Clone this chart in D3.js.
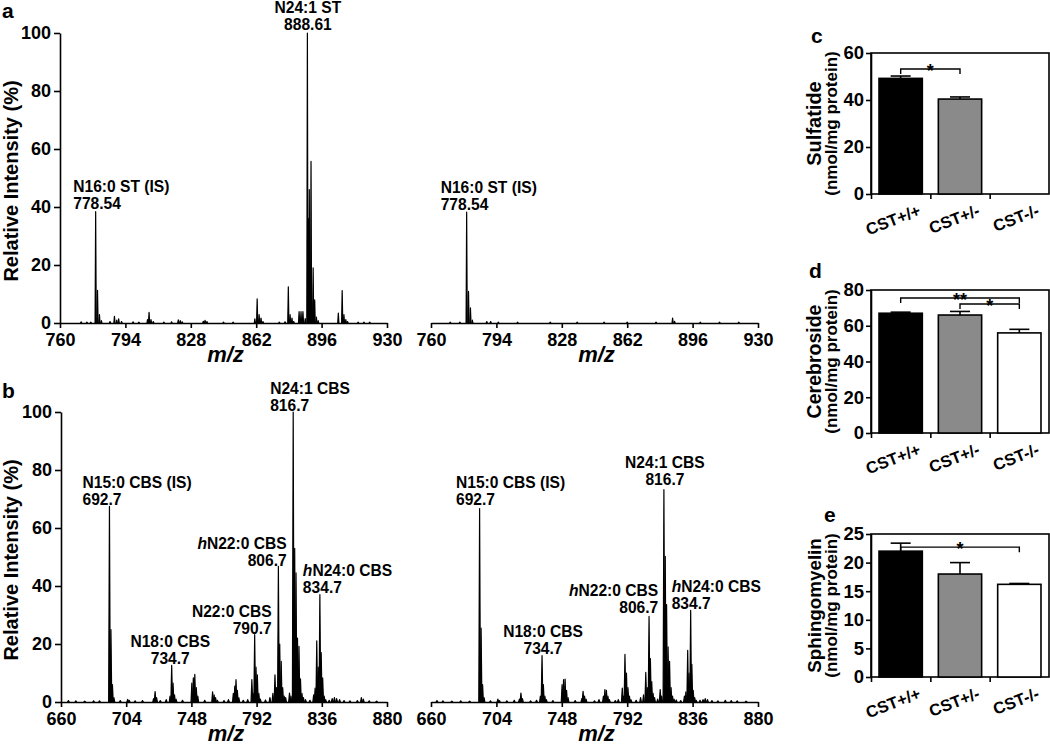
<!DOCTYPE html>
<html><head><meta charset="utf-8">
<script src="https://cdn.jsdelivr.net/npm/d3@7"></script>
<style>
body{margin:0;background:#fff}
svg text{font-family:"Liberation Sans",Arial,Helvetica,sans-serif;font-weight:bold;fill:#000}
</style>
</head><body>
<svg id="chart" width="1050" height="750"></svg>
<script>
// ---------------- DATA ----------------
const mzTicksA = [760, 794, 828, 862, 896, 930];
const mzTicksB = [660, 704, 748, 792, 836, 880];
const intensityTicks = [0, 20, 40, 60, 80, 100];

// [m/z, relative intensity %]
const spectrumA_WT = [
 [771,0.4],[774,0.3],[776,0.3],
 [778.54,38.4],[779.5,11.3],[780.5,2.9],[781.5,0.8],
 [786,0.5],[788.3,2.3],[789.5,1.0],[790.5,1.4],[792,0.5],
 [798,0.4],[801,0.3],
 [805.5,1.2],[806.3,3.7],[807.3,1.2],[808.5,0.5],
 [814,0.3],[818,0.4],
 [821.5,1.1],[822.5,0.8],[823.5,0.4],
 [834.5,0.6],[835.4,0.9],[836.4,0.5],
 [845,0.3],[850,0.3],
 [861.3,1.4],[862.5,8.3],[863.5,2.9],[864.5,1.7],[865.5,0.5],
 [874,0.3],[877,0.4],
 [878.7,12.5],[879.6,2.9],[880.6,1.7],[881.5,0.5],
 [884.3,3.9],[885.3,3.9],[886.3,3.9],[887.5,1.5],
 [888.61,100],[889.2,36],[889.6,46],[890.5,55.7],[890.9,8],[891.6,19],[892.4,8],[893.3,2.0],[894.2,0.8],
 [904.7,3.4],[906.7,11.2],[907.6,2.9],[908.6,1.2],[909.5,0.5],
 [915,0.3],[918,0.3],[921,0.3]
];
const spectrumA_KO = [
 [770,0.3],[775,0.3],
 [778.54,38.2],[779.5,10.9],[780.5,5.2],[781.5,1.0],
 [789,0.5],[791,0.5],[795,0.3],
 [805,0.3],[822,0.3],[836,0.3],[850,0.3],[862,0.3],[877,0.3],
 [885.6,1.7],[886.6,0.6],
 [900,0.3],[910,0.3],[920,0.3]
];
const spectrumB_WT = [
 [665,0.5],[670,0.4],[676,0.3],[682,0.4],[686,0.4],
 [692.7,67.5],[693.7,25],[694.7,6],[695.7,1.5],
 [700,0.5],[705,0.9],[706,0.6],[710,0.4],[715,0.5],
 [722.5,1.2],[723.5,3.6],[724.5,1.5],
 [727,0.5],[731,0.8],
 [733.6,2],[734.7,12.6],[735.6,6.5],[736.6,2.5],[737.6,1],
 [742,0.6],
 [748.3,6.5],[749.3,8.3],[750.3,9.5],[751.3,5],[752.3,2],
 [757,0.6],
 [762.3,3.5],[763.3,2.5],[764.3,1.5],[765.5,0.6],
 [770,0.5],[773,0.8],
 [776.3,3],[777.3,5.5],[778.1,7.7],[779,4],[780,1.5],
 [783,0.6],[786,0.8],
 [788.8,7.7],[789.7,3],[790.7,23.2],[791.6,12],[792.5,9.4],[793.5,3],[794.5,1],
 [798,0.7],[801,1.5],
 [803,3],[804.4,9.4],[805.4,5],[806.7,46.8],[807.6,20],[808.6,14],[809.6,5],[810.6,2],[811.6,1.5],
 [814.2,3.1],[815.2,2],[816.7,100],[817.7,53],[818.6,44.5],[819.6,22],[820.6,19.2],[821.6,8],[822.6,3],[823.6,1.5],[825,0.8],
 [828,0.6],[830.5,2.5],[831.5,4.8],[832.6,21.1],[833.6,12],[834.7,37],[835.6,17],[836.6,8.3],[837.6,2],[838.6,0.8],
 [841,0.6],[843,1.2],[844.5,1.5],[846,1.2],[848,0.8],[851,0.5],[855,0.4],[860,0.5],[862.7,1.5],[864,1],[868,0.4],[873,0.3]
];
const spectrumB_KO = [
 [664,0.5],[668,0.4],[674,0.3],[680,0.4],[686,0.3],
 [692.7,66.7],[693.7,25.5],[694.7,6],[695.7,1.5],
 [700,0.4],[705,1.0],[706,0.5],[711,0.4],[716,0.6],
 [719.5,1],[720.5,3.1],[721.5,1.2],
 [727,0.4],[731,0.6],
 [733.6,2],[734.7,16],[735.6,6],[736.6,2],[737.6,0.8],
 [742,0.5],
 [748.2,6],[749.2,7.7],[750.2,7.9],[751.2,4],[752.2,1.5],
 [757,0.5],
 [761.5,1.2],[762.3,3.7],[763.3,2],[764.3,1],
 [770,0.4],[773,0.8],
 [776,2],[777,4.3],[778,4],[779,2],[780,0.8],
 [784,0.5],[786,0.8],
 [788.7,4.8],[789.6,2],[790.5,16.4],[791.5,10],[792.5,5],[793.5,2],[794.5,0.8],
 [798,0.6],[801,1.5],
 [803,2.5],[804.5,10.2],[805.5,5],[806.7,29.5],[807.6,15],[808.5,7],[809.4,3],[810.4,1.5],
 [812.5,1],[814.2,4.3],[815.2,2],[816.7,73.2],[817.6,50.2],[818.5,33.6],[819.5,19],[820.5,14],[821.5,5],[822.5,2],[823.5,1],[825,0.7],
 [828,0.5],[830.5,2],[831.5,3.5],[832.7,17.8],[833.6,10],[834.7,31.6],[835.5,13],[836.4,4],[837.4,1.5],[838.4,0.6],
 [841,0.6],[843,0.8],[844.5,1.2],[846,0.8],[849,0.5],[853,0.4],[858,0.6],[862,0.5],[866,0.4],[872,0.3]
];

// peak annotations: [italic prefix, species, m/z text, peak m/z, peak intensity]
const labelsA_WT = [["","N24:1 ST","888.61",888.61,100],["","N16:0 ST (IS)","778.54",778.54,38.4]];
const labelsA_KO = [["","N16:0 ST (IS)","778.54",778.54,38.2]];
const labelsB_WT = [
 ["","N24:1 CBS","816.7",816.7,100],["","N15:0 CBS (IS)","692.7",692.7,67.5],
 ["h","N22:0 CBS","806.7",806.7,46.8],["h","N24:0 CBS","834.7",834.7,37],
 ["","N22:0 CBS","790.7",790.7,23.2],["","N18:0 CBS","734.7",734.7,12.6]
];
const labelsB_KO = [
 ["","N24:1 CBS","816.7",816.7,73.2],["","N15:0 CBS (IS)","692.7",692.7,66.7],
 ["h","N22:0 CBS","806.7",806.7,29.5],["h","N24:0 CBS","834.7",834.7,31.6],
 ["","N18:0 CBS","734.7",734.7,16]
];

const genotypes = ["CST+/+", "CST+/-", "CST-/-"];
const sulfatideMean = [49.2, 40.4, null];
const sulfatideSEM  = [1.0, 0.9, null];
const sulfatideTicks = [0, 20, 40, 60];
const cerebrosideMean = [67, 66, 56];
const cerebrosideSEM  = [0.6, 2, 2];
const cerebrosideTicks = [0, 20, 40, 60, 80];
const sphingomyelinMean = [22, 18, 16.2];
const sphingomyelinSEM  = [1.4, 2, 0.15];
const sphingomyelinTicks = [0, 5, 10, 15, 20, 25];
// significance: [from group, to group, mark, bracket level (y units)]
const sulfatideSig = [[0, 1, "*", 53.2]];
const cerebrosideSig = [[0, 2, "**", 75.5], [1, 2, "*", 72.2]];
const sphingomyelinSig = [[0, 2, "*", 22.7]];

// ---------------- DRAWING ----------------
const svg = d3.select("#chart");
svg.append("rect").attr("width",1050).attr("height",750).attr("fill","#fff");

function styleAxis(g, fs) {
  g.selectAll("path.domain").attr("stroke","#000").attr("stroke-width",1.6);
  g.selectAll(".tick line").attr("stroke","#000").attr("stroke-width",1.6);
  g.selectAll(".tick text").attr("font-size",fs).attr("font-family",null).attr("fill","#000");
}

function spectrum(opt) {
  const x = d3.scaleLinear().domain([opt.ticks[0], opt.ticks[opt.ticks.length-1]]).range([opt.x0, opt.x1]);
  const y = d3.scaleLinear().domain([0,100]).range([opt.y0, opt.y1]);
  const g = svg.append("g");
  const hw = opt.halfWidth;
  g.append("g").selectAll("path").data(opt.data).join("path")
    .attr("d", d => `M${x(d[0]-hw)},${y(0)}L${x(d[0])},${y(d[1])}L${x(d[0]+hw)},${y(0)}Z`)
    .attr("fill","#000").attr("stroke","#000").attr("stroke-width",1.2).attr("stroke-linejoin","round");
  const xa = g.append("g").attr("transform",`translate(0,${opt.y0})`)
    .call(d3.axisBottom(x).tickValues(opt.ticks).tickSize(5).tickSizeOuter(0).tickPadding(5).tickFormat(d3.format("d")));
  styleAxis(xa, 18);
  if (opt.yAxis) {
    const ya = g.append("g").attr("transform",`translate(${opt.x0},0)`)
      .call(d3.axisLeft(y).tickValues(intensityTicks).tickSize(6).tickSizeOuter(0).tickPadding(3));
    styleAxis(ya, 18);
    g.append("text").attr("transform",`translate(18,${(opt.y0+opt.y1)/2+3}) rotate(-90)`)
      .attr("text-anchor","middle").attr("font-size",20).text("Relative Intensity (%)");
  }
  g.append("text").attr("x",(opt.x0+opt.x1)/2+2).attr("y",opt.y0+39)
    .attr("text-anchor","middle").attr("font-size",22).attr("font-style","italic").text("m/z");
  opt.labels.forEach((l, i) => {
    const lay = opt.layout[i];
    const px = x(l[3]) + lay[1], py = y(l[4]) + lay[2];
    const t1 = g.append("text").attr("x",px).attr("y",py-17).attr("text-anchor",lay[0]).attr("font-size",15.6);
    if (l[0]) t1.append("tspan").attr("font-style","italic").text(l[0]);
    t1.append("tspan").text(l[1]);
    g.append("text").attr("x",px).attr("y",py).attr("text-anchor",lay[0]).attr("font-size",15.6).text(l[2]);
  });
}

// layout: [anchor, dx, dy of m/z line]
spectrum({data:spectrumA_WT, ticks:mzTicksA, x0:60, x1:387, y0:323, y1:33, halfWidth:0.3, yAxis:true,
  labels:labelsA_WT, layout:[["middle",0.5,-3.5],["start",-22.4,-2.3]]});
spectrum({data:spectrumA_KO, ticks:mzTicksA, x0:431, x1:758, y0:323, y1:33, halfWidth:0.3, yAxis:false,
  labels:labelsA_KO, layout:[["start",-26,-2.7]]});
spectrum({data:spectrumB_WT, ticks:mzTicksB, x0:61, x1:387, y0:702, y1:412, halfWidth:0.55, yAxis:true,
  labels:labelsB_WT, layout:[["start",-23,-1.3],["start",-27,-1],["end",8.3,-0.6],["start",-17,-1.4],["end",17,-0.4],["middle",-1.4,-1.9]]});
spectrum({data:spectrumB_KO, ticks:mzTicksB, x0:431, x1:758, y0:702, y1:412, halfWidth:0.55, yAxis:false,
  labels:labelsB_KO, layout:[["middle",1,-4.4],["start",-23.6,-3.3],["end",9.2,-3.8],["start",-19,-1.7],["middle",1,-2]]});

svg.append("text").attr("x",2).attr("y",18).attr("font-size",21).text("a");
svg.append("text").attr("x",2).attr("y",398).attr("font-size",21).text("b");

const barFills = ["#000", "#8a8a8a", "#fff"];
function barPanel(opt) {
  const x0 = 871, x1 = 1049;
  const x = d3.scaleBand().domain(genotypes).range([x0, x1]).paddingInner(0.27).paddingOuter(0.135);
  const y = d3.scaleLinear().domain([0, opt.ticks[opt.ticks.length-1]]).range([opt.yb, opt.yt]);
  const g = svg.append("g");
  g.append("rect").attr("x",x0).attr("y",opt.yt).attr("width",x1-x0).attr("height",opt.yb-opt.yt)
    .attr("fill","none").attr("stroke","#000").attr("stroke-width",1.6);
  genotypes.forEach((c, i) => {
    const m = opt.mean[i];
    if (m == null) return;
    const cx = x(c) + x.bandwidth()/2;
    g.append("rect").attr("x",x(c)).attr("y",y(m)).attr("width",x.bandwidth()).attr("height",y(0)-y(m))
      .attr("fill",barFills[i]).attr("stroke","#000").attr("stroke-width",1.6);
    const top = y(m + opt.sem[i]);
    g.append("line").attr("x1",cx).attr("x2",cx).attr("y1",y(m)).attr("y2",top).attr("stroke","#000").attr("stroke-width",1.6);
    g.append("line").attr("x1",cx-10).attr("x2",cx+10).attr("y1",top).attr("y2",top).attr("stroke","#000").attr("stroke-width",1.6);
  });
  const ya = g.append("g").attr("transform",`translate(${x0},0)`)
    .call(d3.axisLeft(y).tickValues(opt.ticks).tickSize(5).tickSizeOuter(0).tickPadding(2));
  styleAxis(ya, 18.5);
  const xt = d3.scaleLinear().domain([0,3]).range([x0, x1]);
  const xa = g.append("g").attr("transform",`translate(0,${opt.yb})`)
    .call(d3.axisBottom(xt).tickValues([0,1,2]).tickSize(5).tickSizeOuter(0).tickFormat(""));
  styleAxis(xa, 18);
  xa.select("path.domain").remove();
  genotypes.forEach(c => {
    const cx = x(c) + x.bandwidth()/2;
    g.append("text").attr("transform",`translate(${cx+21},${opt.yb+21}) rotate(-21)`)
      .attr("text-anchor","end").attr("font-size",16.5).text(c);
  });
  opt.sig.forEach(s => {
    const xa_ = x(genotypes[s[0]]) + x.bandwidth()/2, xb_ = x(genotypes[s[1]]) + x.bandwidth()/2;
    const ly = y(s[3]);
    g.append("path").attr("d",`M${xa_},${ly+5}V${ly}H${xb_}V${ly+5}`).attr("fill","none").attr("stroke","#000").attr("stroke-width",1.4);
    g.append("text").attr("x",(xa_+xb_)/2).attr("y",ly+8).attr("text-anchor","middle").attr("font-size",18).text(s[2]);
  });
  const cy = (opt.yt + opt.yb)/2;
  g.append("text").attr("transform",`translate(821,${cy}) rotate(-90)`).attr("text-anchor","middle")
    .attr("font-size",opt.titleSize).text(opt.title);
  g.append("text").attr("transform",`translate(837,${cy}) rotate(-90)`).attr("text-anchor","middle")
    .attr("font-size",17).text("(nmol/mg protein)");
  svg.append("text").attr("x",opt.letterX).attr("y",opt.letterY).attr("font-size",21).text(opt.letter);
}

barPanel({mean:sulfatideMean, sem:sulfatideSEM, ticks:sulfatideTicks, sig:sulfatideSig, yt:53, yb:194,
  title:"Sulfatide", titleSize:20, letter:"c", letterX:811, letterY:43});
barPanel({mean:cerebrosideMean, sem:cerebrosideSEM, ticks:cerebrosideTicks, sig:cerebrosideSig, yt:290, yb:433,
  title:"Cerebroside", titleSize:19.5, letter:"d", letterX:809, letterY:278});
barPanel({mean:sphingomyelinMean, sem:sphingomyelinSEM, ticks:sphingomyelinTicks, sig:sphingomyelinSig, yt:534, yb:677,
  title:"Sphingomyelin", titleSize:18.8, letter:"e", letterX:824, letterY:522});
</script>
</body></html>
